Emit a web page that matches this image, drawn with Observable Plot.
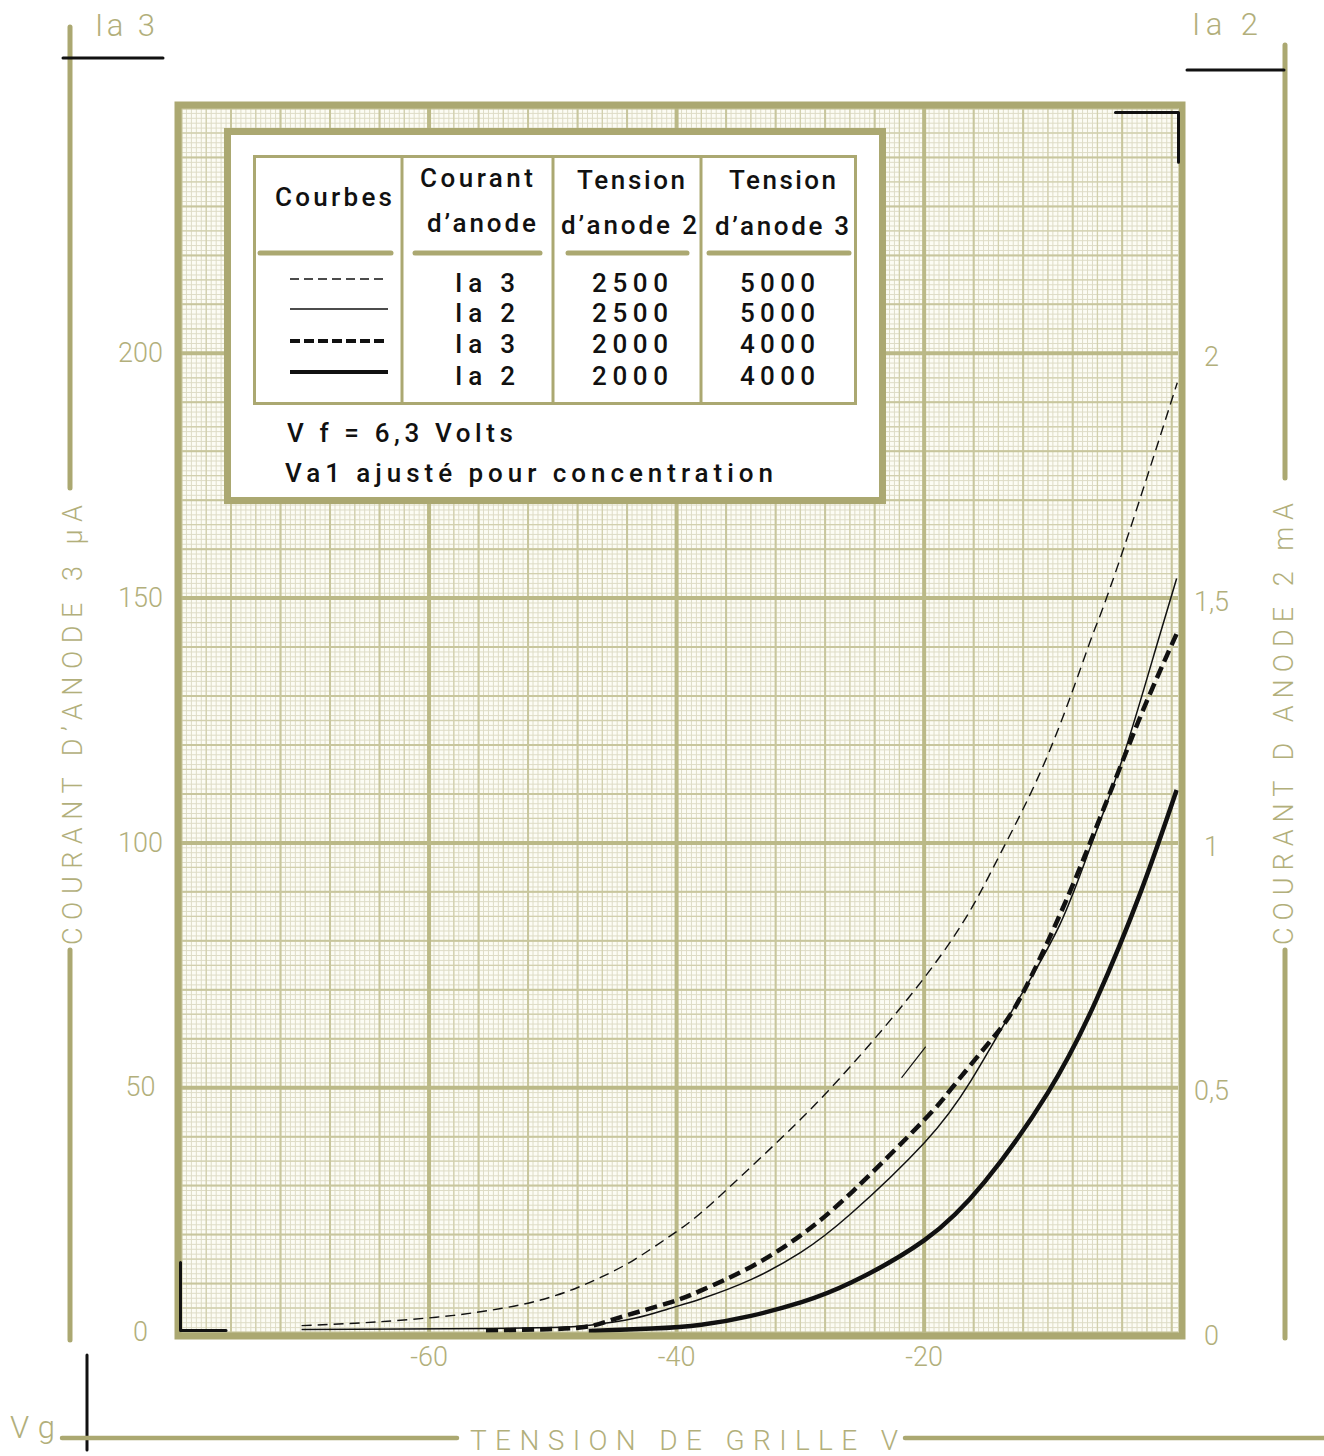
<!DOCTYPE html>
<html><head><meta charset="utf-8">
<script src="https://cdn.jsdelivr.net/npm/d3@7"></script>
<script src="https://cdn.jsdelivr.net/npm/@observablehq/plot@0.6"></script>
<style>
html,body{margin:0;padding:0;background:#fff;}
#wrap{position:relative;width:1324px;height:1456px;overflow:hidden;background:#fff;}
#wrap > svg{position:absolute;left:0;top:0;}
</style></head><body><div id="wrap"></div>
<script>
// ---------------- DATA ----------------
// Courbe 1 : Ia3, Va2 = 2500 V, Va3 = 5000 V (µA, axe gauche)
const vg_ia3_2500 = [-70.3, -66, -62.3, -58, -54.2, -51.5, -48.8, -46.1, -43.4, -40.7, -38, -34, -30, -25.9, -20.9, -16.8, -13.8, -10, -6.75, -5.7, -3.9, -1.7, 0.45];
const ia3_2500_uA = [1.4, 1.9, 2.5, 3.5, 4.9, 6.3, 8.4, 11.3, 14.9, 19.4, 24.5, 33.8, 43.5, 54.5, 69.5, 84, 98, 118, 140, 147, 160, 177, 194];
// Courbe 2 : Ia2, Va2 = 2500 V, Va3 = 5000 V (mA, axe droit)
const vg_ia2_2500 = [-70.3, -62, -55, -50, -47, -43.4, -40.7, -38, -34, -30, -25.9, -20, -16.2, -12.4, -9, -6.5, -4, -1.25, 0.4];
const ia2_2500_mA = [0.006, 0.007, 0.008, 0.010, 0.015, 0.029, 0.048, 0.069, 0.108, 0.163, 0.243, 0.387, 0.515, 0.679, 0.835, 0.996, 1.17, 1.40, 1.54];
// Courbe 3 : Ia3, Va2 = 2000 V, Va3 = 4000 V (µA)
const vg_ia3_2000 = [-55.4, -50, -47, -44.7, -40.7, -38, -34, -30, -25.7, -20, -17.8, -14.6, -12.2, -9, -6.5, -4, -2, 0.45];
const ia3_2000_uA = [0.4, 0.7, 1.3, 3.0, 6.0, 8.6, 13.4, 19.8, 29, 43.4, 49.8, 59.7, 68.5, 85.5, 100.6, 116.5, 129, 143];
// Courbe 4 : Ia2, Va2 = 2000 V, Va3 = 4000 V (mA)
const vg_ia2_2000 = [-47.1, -42, -38, -34, -29.9, -25.9, -20, -15.1, -10, -6.1, -2.5, 0.4];
const ia2_2000_mA = [0.003, 0.008, 0.016, 0.034, 0.062, 0.102, 0.188, 0.308, 0.49, 0.679, 0.90, 1.108];
// trait parasite du document
const strayVg = [-21.8, -19.9];
const strayUA = [52.1, 58.3];

const xTicks = [-60, -40, -20];
const xTickLabels = ["-60", "-40", "-20"];
const yTicksLeft = [0, 50, 100, 150, 200];
const yTickLabelsLeft = ["0", "50", "100", "150", "200"];
const yTicksRight = [0, 0.5, 1, 1.5, 2];
const yTickLabelsRight = ["0", "0,5", "1", "1,5", "2"];

const legendCourant = ["Ia 3", "Ia 2", "Ia 3", "Ia 2"];
const legendVa2 = ["2500", "2500", "2000", "2000"];
const legendVa3 = ["5000", "5000", "4000", "4000"];

// ---------------- STYLE ----------------
const OLIVE = "#aba871";
const OLIVE_TXT = "#b2af7b";
const INK = "#111";
const FONT = "Roboto, 'DejaVu Sans', sans-serif";
const styles = [
  {w: 1.4, dash: "10,6"},
  {w: 1.5, dash: null},
  {w: 4.5, dash: "12,6"},
  {w: 4.5, dash: null}
];

const rng = (a, b, s) => d3.range(Math.round((b - a) / s) + 1).map(i => +(a + i * s).toFixed(3));
const xFine = rng(-80, 0, 0.4), xSemi = rng(-80, 0, 2), xMed = rng(-80, 0, 4), xMaj = [-60, -40, -20];
const yFine = rng(0, 250, 1), ySemi = rng(0, 250, 5), yMed = rng(0, 250, 10), yMaj = [50, 100, 150, 200];

const mk = (xs, ys, k = 1) => xs.map((v, i) => ({v, y: ys[i] * k}));
const c1 = mk(vg_ia3_2500, ia3_2500_uA);
const c2 = mk(vg_ia2_2500, ia2_2500_mA, 100);
const c3 = mk(vg_ia3_2000, ia3_2000_uA);
const c4 = mk(vg_ia2_2000, ia2_2000_mA, 100);
const curves = [c1, c2, c3, c4];

const lineMark = (data, s) => Plot.line(data, {x: "v", y: "y", curve: "natural", stroke: INK,
  strokeWidth: s.w, strokeDasharray: s.dash || undefined, strokeLinecap: "butt"});

const textStyle = {fill: OLIVE_TXT, fontSize: 27, fontFamily: FONT, fontWeight: 300};

const plot = Plot.plot({
  width: 1324, height: 1456,
  marginLeft: 181, marginRight: 146, marginTop: 108, marginBottom: 124,
  x: {domain: [-80, 0.55], axis: null},
  y: {domain: [0, 250], axis: null},
  style: {background: "transparent", overflow: "visible"},
  marks: [
    Plot.frame({fill: "#fcfcf4"}),
    Plot.ruleX(xFine, {stroke: "#dedcc6", strokeWidth: 1}),
    Plot.ruleY(yFine, {stroke: "#dedcc6", strokeWidth: 1}),
    Plot.ruleX(xSemi, {stroke: "#d2d0ae", strokeWidth: 1.3}),
    Plot.ruleY(ySemi, {stroke: "#d2d0ae", strokeWidth: 1.3}),
    Plot.ruleX(xMed, {stroke: "#c8c69d", strokeWidth: 2}),
    Plot.ruleY(yMed, {stroke: "#c8c69d", strokeWidth: 2}),
    Plot.ruleX(xMaj, {stroke: "#bbb987", strokeWidth: 4}),
    Plot.ruleY(yMaj, {stroke: "#bbb987", strokeWidth: 4}),
    ...curves.map((c, i) => lineMark(c, styles[i])),
    Plot.line(mk(strayVg, strayUA), {x: "v", y: "y", stroke: INK, strokeWidth: 1.2}),
    Plot.frame({stroke: OLIVE, strokeWidth: 7, inset: -3.5}),
    // registration corners
    Plot.line([{v: -80.08, y: 14.3}, {v: -80.08, y: 0.4}, {v: -76.4, y: 0.4}], {x: "v", y: "y", stroke: INK, strokeWidth: 3}),
    Plot.line([{v: -4.54, y: 249.2}, {v: 0.55, y: 249.2}, {v: 0.55, y: 239}], {x: "v", y: "y", stroke: INK, strokeWidth: 3}),
    // tick labels
    Plot.text(yTicksLeft, {y: d => d, text: yTickLabelsLeft, frameAnchor: "left", dx: -41, textAnchor: "middle", ...textStyle}),
    Plot.text(yTicksRight, {y: d => d * 100, text: yTickLabelsRight, frameAnchor: "right", dx: 33, dy: 4, textAnchor: "middle", ...textStyle}),
    Plot.text(xTicks, {x: d => d, text: xTickLabels, frameAnchor: "bottom", dy: 33, textAnchor: "middle", ...textStyle})
  ]
});
document.getElementById("wrap").appendChild(plot);

// ---------------- DECOR + LEGEND ----------------
const deco = d3.select("#wrap").append("svg").attr("width", 1324).attr("height", 1456);
function ln(x1, y1, x2, y2, stroke, w, cap = "round") {
  deco.append("line").attr("x1", x1).attr("y1", y1).attr("x2", x2).attr("y2", y2)
    .attr("stroke", stroke).attr("stroke-width", w).attr("stroke-linecap", cap);
}
function tx(str, x, y, size, len, fill, weight = 400, rot = false) {
  const t = deco.append("text").text(str).attr("font-family", FONT).attr("font-size", size)
    .attr("font-weight", weight).attr("fill", fill).attr("textLength", len).attr("lengthAdjust", "spacing");
  if (rot) {
    t.attr("transform", `translate(${x},${y}) rotate(-90)`).attr("text-anchor", "middle").attr("dominant-baseline", "central");
  } else {
    t.attr("x", x).attr("y", y);
  }
  return t;
}
// left axis
ln(70, 27, 70, 488, OLIVE, 5);
ln(70, 950, 70, 1340, OLIVE, 5);
tx("COURANT  D’ANODE 3  µA", 73, 725, 27, 440, OLIVE_TXT, 300, true);
ln(63, 58, 163, 58, INK, 3);
tx("Ia 3", 95, 36, 31, 60, OLIVE_TXT, 300);
// right axis
ln(1285, 45, 1285, 478, OLIVE, 5);
ln(1285, 950, 1285, 1338, OLIVE, 5);
tx("COURANT  D ANODE 2  mA", 1284, 724, 27, 442, OLIVE_TXT, 300, true);
ln(1187, 70, 1284, 70, INK, 3);
tx("Ia 2", 1192, 35, 31, 66, OLIVE_TXT, 300);
// bottom
ln(87, 1355, 87, 1450, INK, 3);
ln(62, 1438, 457, 1438, OLIVE, 4.5);
ln(905, 1438, 1324, 1438, OLIVE, 4.5);
tx("Vg", 10, 1438, 31, 45, OLIVE_TXT, 300);
tx("TENSION  DE  GRILLE  V", 470, 1450, 28, 428, OLIVE_TXT, 300);

// legend box
deco.append("rect").attr("x", 227.5).attr("y", 131.5).attr("width", 655).attr("height", 369)
  .attr("fill", "#fff").attr("stroke", OLIVE).attr("stroke-width", 7);
deco.append("rect").attr("x", 254.5).attr("y", 156.5).attr("width", 601).attr("height", 247)
  .attr("fill", "none").attr("stroke", OLIVE).attr("stroke-width", 3);
[402, 553, 701].forEach(x => ln(x, 156, x, 404, OLIVE, 3, "butt"));
[[260, 391], [415, 540], [568, 687], [709, 849]].forEach(([a, b]) => ln(a, 253, b, 253, OLIVE, 5));
const LF = 26, LW = 500;
tx("Courbes", 275, 206, LF, 117, INK, LW);
tx("Courant", 420, 187, LF, 113, INK, LW);
tx("d’anode", 427, 232, LF, 109, INK, LW);
tx("Tension", 577, 189, LF, 108, INK, LW);
tx("d’anode 2", 561, 234, LF, 136, INK, LW);
tx("Tension", 729, 189, LF, 107, INK, LW);
tx("d’anode 3", 715, 235, LF, 134, INK, LW);
const rowBase = [292, 322, 353, 385];
const sampleY = [279, 309, 341, 372];
legendCourant.forEach((s, i) => {
  tx(s, 455, rowBase[i], LF, 60, INK, LW);
  tx(legendVa2[i], 592, rowBase[i], LF, 76, INK, LW);
  tx(legendVa3[i], 740, rowBase[i], LF, 75, INK, LW);
  const l = deco.append("line").attr("x1", 290).attr("x2", 388).attr("y1", sampleY[i]).attr("y2", sampleY[i])
    .attr("stroke", INK).attr("stroke-width", styles[i].w === 4.5 ? 4 : 1.4);
  if (styles[i].dash) l.attr("stroke-dasharray", i === 0 ? "9,5" : "10,4");
});
tx("V f = 6,3 Volts", 287, 442, LF, 226, INK, LW);
tx("Va1 ajusté pour concentration", 285, 482, LF, 488, INK, LW);
</script></body></html>
